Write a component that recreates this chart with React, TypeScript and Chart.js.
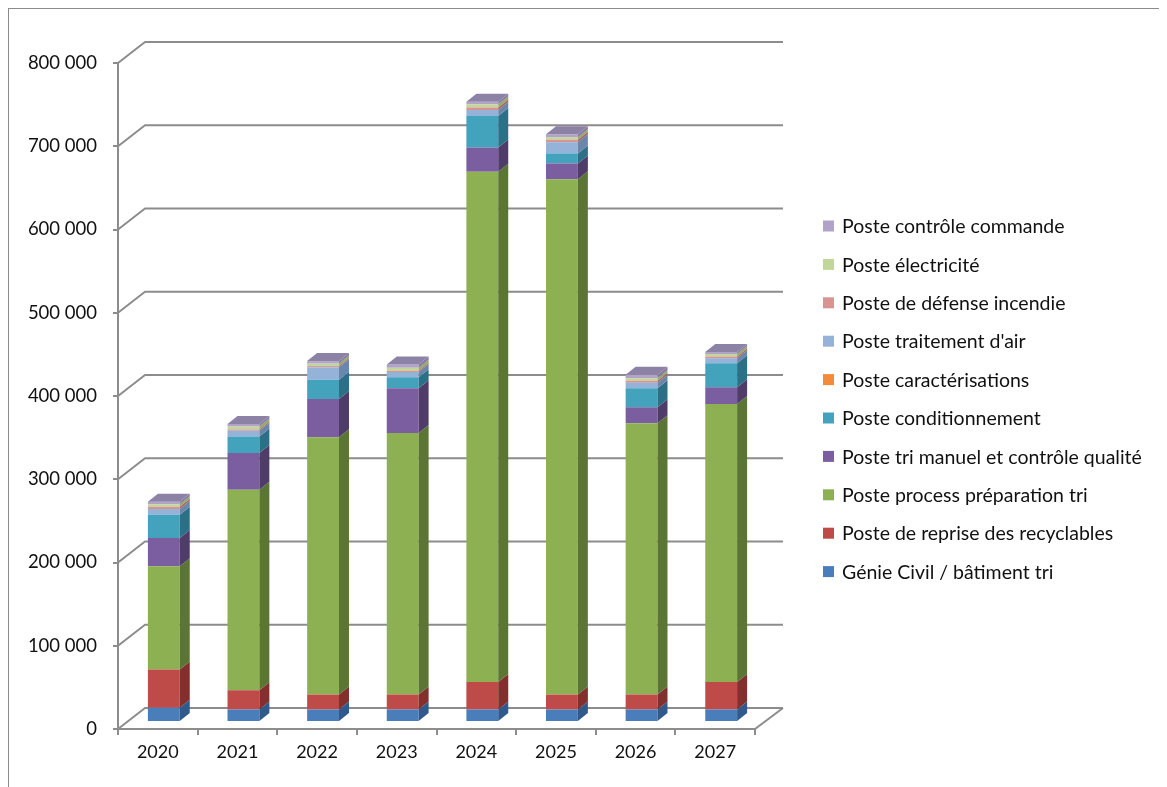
import { useEffect, useRef } from "react";
import { Chart, registerables } from "chart.js";

Chart.register(...registerables);

// Years on the category axis
const years = ["2020", "2021", "2022", "2023", "2024", "2025", "2026", "2027"];

// Amounts per cost item (euros), bottom of the stack first
const genieCivil = [17000, 15000, 15000, 15000, 15000, 15000, 15000, 15000];
const repriseRecyclables = [46000, 23000, 18000, 18000, 33000, 18000, 18000, 33000];
const processPreparation = [124000, 241000, 309000, 314000, 613000, 619000, 326000, 334000];
const triManuel = [34000, 44000, 46000, 54000, 29000, 19000, 19000, 20000];
const conditionnement = [28000, 20000, 23000, 13000, 38000, 12000, 23000, 29000];
const caracterisations = [0, 0, 0, 0, 0, 0, 0, 0];
const traitementAir = [7000, 7000, 15000, 6500, 7000, 13500, 6500, 6000];
const defenseIncendie = [2500, 1500, 1500, 1500, 3000, 3000, 2500, 2000];
const electricite = [3000, 3500, 3000, 3500, 4000, 3000, 3000, 3000];
const controleCommande = [3000, 3000, 3000, 4000, 3000, 3500, 4000, 2500];

// Value axis
const yMin = 0;
const yMax = 800000;
const yStep = 100000;

const seriesLabels = [
  "Génie Civil / bâtiment tri",
  "Poste de reprise des recyclables",
  "Poste process préparation tri",
  "Poste tri manuel et contrôle qualité",
  "Poste conditionnement",
  "Poste caractérisations",
  "Poste traitement d'air",
  "Poste de défense incendie",
  "Poste électricité",
  "Poste contrôle commande",
];
const seriesValues = [
  genieCivil,
  repriseRecyclables,
  processPreparation,
  triManuel,
  conditionnement,
  caracterisations,
  traitementAir,
  defenseIncendie,
  electricite,
  controleCommande,
];
const frontColors = [
  "#4a7ebb", "#be4b48", "#8db152", "#7b5ea0", "#43a3bd",
  "#f38b3a", "#95b2d8", "#d99391", "#c1d69a", "#b1a2c8",
];
const sideColors = [
  "#2f5a8b", "#822f2d", "#5b7634", "#4f3c69", "#2b7086",
  "#b5642a", "#6b86ab", "#a66563", "#93a96b", "#877aa0",
];
const topFaceColor = "#8c82a6";

const GRID = "#8c8c8c";
const TEXT = "#111111";
const FONT = "Lato, 'Open Sans', sans-serif";

// Perspective offsets
const WALL_DX = 27;
const WALL_DY = -21;
const BAR_DX = 6;
const BAR_DY = -7;
const DEPTH_DX = 10;
const DEPTH_DY = -8;

const formatThousands = (v: number) =>
  String(Math.round(v)).replace(/\B(?=(\d{3})+(?!\d))/g, " ");

const boxPlugin = {
  id: "box3d",
  beforeDatasetsDraw(chart: any) {
    const { ctx, chartArea, scales } = chart;
    const y = scales.y;
    ctx.save();
    ctx.strokeStyle = GRID;
    ctx.lineWidth = 2;
    ctx.lineJoin = "round";
    for (const t of y.ticks) {
      const py = y.getPixelForValue(t.value);
      ctx.beginPath();
      ctx.moveTo(chartArea.left, py);
      ctx.lineTo(chartArea.left + WALL_DX, py + WALL_DY);
      ctx.lineTo(chartArea.right + WALL_DX + 1, py + WALL_DY);
      ctx.stroke();
    }
    // right edge of the floor
    ctx.beginPath();
    ctx.moveTo(chartArea.right, chartArea.bottom);
    ctx.lineTo(chartArea.right + WALL_DX + 1, chartArea.bottom + WALL_DY);
    ctx.stroke();
    ctx.restore();

    // bars stand a little behind the front plane
    ctx.save();
    ctx.translate(BAR_DX, BAR_DY);
  },
  afterDatasetsDraw(chart: any) {
    const { ctx } = chart;
    const n = chart.data.labels.length;
    const topIndex: number[] = new Array(n).fill(-1);
    chart.data.datasets.forEach((ds: any, i: number) => {
      const meta = chart.getDatasetMeta(i);
      meta.data.forEach((bar: any, j: number) => {
        const { x, y, base, width } = bar.getProps(["x", "y", "base", "width"], true);
        if (ds.data[j] > 0) topIndex[j] = i;
        if (Math.abs(base - y) < 0.1) return;
        const r = x + width / 2;
        ctx.fillStyle = sideColors[i];
        ctx.beginPath();
        ctx.moveTo(r, y);
        ctx.lineTo(r + DEPTH_DX, y + DEPTH_DY);
        ctx.lineTo(r + DEPTH_DX, base + DEPTH_DY);
        ctx.lineTo(r, base);
        ctx.closePath();
        ctx.fill();
      });
    });
    for (let j = 0; j < n; j++) {
      const i = topIndex[j];
      if (i < 0) continue;
      const bar = chart.getDatasetMeta(i).data[j];
      const { x, y, width } = bar.getProps(["x", "y", "width"], true);
      const l = x - width / 2;
      const r = x + width / 2;
      ctx.fillStyle = topFaceColor;
      ctx.beginPath();
      ctx.moveTo(l, y);
      ctx.lineTo(l + DEPTH_DX, y + DEPTH_DY);
      ctx.lineTo(r + DEPTH_DX, y + DEPTH_DY);
      ctx.lineTo(r, y);
      ctx.closePath();
      ctx.fill();
    }
    ctx.restore();
  },
  afterDraw(chart: any) {
    // legend, last series on top
    const { ctx } = chart;
    ctx.save();
    ctx.font = `19.5px ${FONT}`;
    ctx.textBaseline = "middle";
    ctx.textAlign = "left";
    const startY = 217;
    const rowGap = 38.4;
    const count = seriesLabels.length;
    for (let k = 0; k < count; k++) {
      const i = count - 1 - k;
      const cy = startY + k * rowGap;
      ctx.fillStyle = frontColors[i];
      ctx.fillRect(814, cy - 5.5, 11, 11);
      ctx.fillStyle = TEXT;
      ctx.fillText(seriesLabels[i], 833, cy + 1);
    }
    ctx.restore();
  },
};

export default function App() {
  const canvasRef = useRef<HTMLCanvasElement | null>(null);

  useEffect(() => {
    if (!canvasRef.current) return;
    Chart.defaults.font.family = FONT;
    const chart = new Chart(canvasRef.current, {
      type: "bar",
      data: {
        labels: years,
        datasets: seriesLabels.map((label, i) => ({
          label,
          data: seriesValues[i],
          backgroundColor: frontColors[i],
          borderWidth: 0,
          categoryPercentage: 1,
          barPercentage: 0.4,
          clip: false as any,
        })),
      },
      options: {
        animation: false,
        responsive: true,
        maintainAspectRatio: false,
        layout: { padding: { left: 0, top: 54, right: 412, bottom: 0 } },
        plugins: {
          legend: { display: false },
          tooltip: { enabled: false },
        },
        scales: {
          x: {
            stacked: true,
            afterFit: (s: any) => {
              s.height = 58;
            },
            grid: {
              offset: true,
              drawOnChartArea: false,
              drawTicks: true,
              tickLength: 6,
              color: GRID,
              lineWidth: 2,
            },
            border: { color: GRID, width: 2 },
            ticks: { color: TEXT, font: { size: 18, family: FONT }, padding: 6 },
          },
          y: {
            stacked: true,
            min: yMin,
            max: yMax,
            afterFit: (s: any) => {
              s.width = 109;
            },
            grid: {
              drawOnChartArea: false,
              drawTicks: true,
              tickLength: 5,
              color: GRID,
              lineWidth: 2,
            },
            border: { color: GRID, width: 2 },
            ticks: {
              stepSize: yStep,
              color: TEXT,
              font: { size: 18.5, family: FONT },
              padding: 16,
              callback: (v: any) => formatThousands(Number(v)),
            },
          },
        },
      },
      plugins: [boxPlugin],
    });
    return () => chart.destroy();
  }, []);

  return (
    <div
      style={{
        width: 1159,
        height: 779,
        boxSizing: "border-box",
        borderLeft: "1px solid #8c8c8c",
        borderTop: "1px solid #8c8c8c",
        background: "#fff",
      }}
    >
      <div style={{ position: "relative", width: 1158, height: 778 }}>
        <canvas ref={canvasRef} />
      </div>
    </div>
  );
}
